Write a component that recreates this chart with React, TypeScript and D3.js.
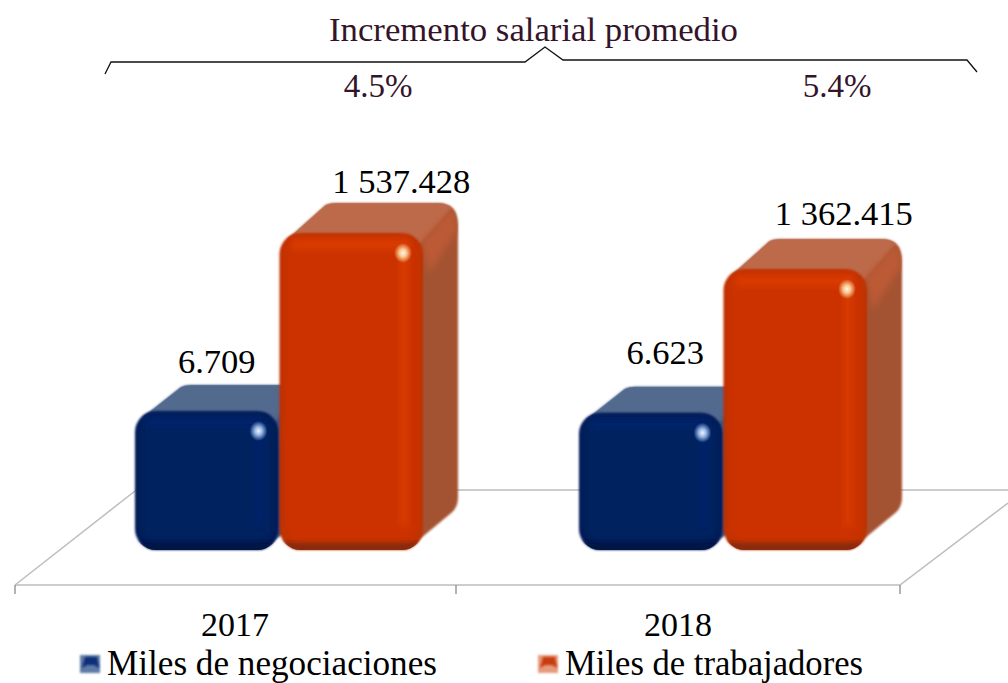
import React from "react";
import * as d3 from "d3";

const categories = ["2017", "2018"];
const seriesNames = ["Miles de negociaciones", "Miles de trabajadores"];
const negociaciones = [6.709, 6.623];
const trabajadores = [1537.428, 1362.415];
const negociacionesLabels = ["6.709", "6.623"];
const trabajadoresLabels = ["1 537.428", "1 362.415"];
const bracketTitle = "Incremento salarial promedio";
const increments = ["4.5%", "5.4%"];

const W = 1008, H = 683;
const FONT = "'Liberation Serif', serif";
const BASE = 550;
const DX = 35;

const x0 = d3.scaleBand().domain(categories).range([15, 903]);
const x1 = d3.scaleBand().domain(seriesNames).range([120, 408]).paddingInner(0.007);
const yNeg = d3.scaleLinear().domain([0, 6.709]).range([BASE, 411]);
const yTrab = d3.scaleLinear().domain([0, 1537.428]).range([BASE, 233]);
const line = d3.line();

const palette = [
  { edge: "#001c58", front: "#01205f", band: "#03226a", top: "#526a8f", side: "#34507f", side2: "#3d5a88", hi: "#b5d3ff", bottomEdge: "#001445", dy: 26, mark: "#0d2f78", markEdge: "#5f7aa5" },
  { edge: "#c03000", front: "#cc3300", band: "#d93b02", top: "#bd6a4c", side: "#a45233", side2: "#bb5a34", hi: "#ffe0a8", bottomEdge: "#8a2c0c", dy: 30, mark: "#c83c10", markEdge: "#e59a7c" },
];

function Bar({ x, w, y, s, idx }: { x: number; w: number; y: number; s: number; idx: string }) {
  const p = palette[s];
  const DY = p.dy;
  const h = BASE - y;
  const r = 21;
  const right = x + w;
  const backR = right + DX;
  const backTop = y - DY;
  const backBot = BASE - DY;
  const outline = `M${x + 8},${y + 6} L${x + 46},${backTop + 2} Q${x + 50},${backTop} ${x + 56},${backTop}
    L${backR - 20},${backTop} Q${backR},${backTop} ${backR},${backTop + 22}
    L${backR},${backBot - 22} Q${backR},${backBot - 12} ${backR - 8},${backBot - 6}
    L${right - 8},${BASE - 7} L${x + 20},${BASE - 7} Z`;
  const top = `M${x + 8},${y + 6} L${x + 46},${backTop + 2} Q${x + 50},${backTop} ${x + 56},${backTop}
    L${backR - 22},${backTop} Q${backR - 10},${backTop} ${backR - 6},${backTop + 5} L${right - 2},${y + 10} Z`;
  return (
    <g>
      <path d={outline} fill={p.side} filter="url(#soft)" />
      <clipPath id={`o${idx}`}><path d={outline} /></clipPath>
      <g clipPath={`url(#o${idx})`}>
        <path d={top} fill={p.top} filter="url(#soft)" />
        <path d={`M${right - 2},${y + 8} L${backR - 5},${backTop + 4} L${backR},${backTop + 26} L${right + 6},${y + 40} Z`} fill={p.side2} filter="url(#blur3)" />
      </g>
      <rect x={x} y={y} width={w} height={h} rx={r} fill={p.edge} filter="url(#soft)" />
      <clipPath id={`clip${idx}`}>
        <rect x={x} y={y} width={w} height={h} rx={r} />
      </clipPath>
      <g clipPath={`url(#clip${idx})`}>
        <rect x={x - 3} y={BASE - 8} width={w + 6} height={12} fill={p.bottomEdge} filter="url(#blur2)" />
        <rect x={x + 6} y={y + 5} width={w - 12} height={h - 15} rx={r - 8} fill={p.front} filter="url(#blur3)" />
        <rect x={x + 12} y={y + 6} width={w - 26} height={11} fill={p.band} filter="url(#blur3)" />
        <rect x={right - 23} y={y + 12} width={8} height={h - 36} fill={p.band} filter="url(#blur3)" />
      </g>
      <ellipse cx={right - 20} cy={y + 20} rx={9} ry={10} fill={`url(#hi${s})`} />
    </g>
  );
}

function Marker({ x, y, s }: { x: number; y: number; s: number }) {
  const p = palette[s];
  return (
    <g>
      <rect x={x} y={y} width={20} height={18} fill={p.markEdge} filter="url(#soft)" />
      <path d={`M${x + 2},${y + 13} L${x + 5},${y + 2} L${x + 17},${y + 2} L${x + 19},${y + 13} L${x + 14},${y + 10} L${x + 7},${y + 10} Z`} fill={p.mark} filter="url(#soft)" />
    </g>
  );
}

export default function App() {
  const band = x0.bandwidth();
  const txt = { fontFamily: FONT, fill: "#000" } as const;
  const negDx = [10, 14.5];
  const negDy = [-38, -49];
  const trabDy = [-40, -44];
  const trabDx = [50, 48.5];
  const yearDx = [-2, -3];
  return (
    <svg width={W} height={H} viewBox={`0 0 ${W} ${H}`} style={{ position: "absolute", left: 0, top: 0, display: "block", background: "#fff" }}>
      <defs>
        <filter id="soft" x="-10%" y="-10%" width="120%" height="120%"><feGaussianBlur stdDeviation="0.8" /></filter>
        <filter id="blur2" x="-20%" y="-20%" width="140%" height="140%"><feGaussianBlur stdDeviation="2" /></filter>
        <filter id="blur3" x="-30%" y="-30%" width="160%" height="160%"><feGaussianBlur stdDeviation="3" /></filter>
        {palette.map((p, i) => (
          <radialGradient id={`hi${i}`} key={i}>
            <stop offset="0%" stopColor="#fff" stopOpacity={0.95} />
            <stop offset="40%" stopColor={p.hi} stopOpacity={0.85} />
            <stop offset="100%" stopColor={p.hi} stopOpacity={0} />
          </radialGradient>
        ))}
      </defs>

      {/* Bracket */}
      <path d={line([[105, 74], [111, 62], [525, 62], [545, 47], [563, 60], [967, 60], [977, 72]])!} fill="none" stroke="#111" strokeWidth={1.3} />
      <text x={533.5} y={41} textAnchor="middle" fontSize={33} fontFamily={FONT} fill="#33142a" textLength={409} lengthAdjust="spacingAndGlyphs">{bracketTitle}</text>
      {increments.map((t, i) => (
        <text key={t} x={[378, 837][i]} y={97} textAnchor="middle" fontSize={33} fontFamily={FONT} fill="#33142a">{t}</text>
      ))}

      {/* Floor */}
      <g stroke="#bdbdbd" strokeWidth={1.5} fill="none">
        <path d={line([[15, 585], [900, 585], [1008, 503]])!} />
        <path d={line([[15, 585], [135, 491]])!} />
        <path d={line([[135, 490], [1008, 490]])!} />
      </g>
      {[15, 456, 900].map((x) => (
        <line key={x} x1={x} x2={x} y1={585} y2={594} stroke="#808080" strokeWidth={1.2} />
      ))}

      {categories.map((c, i) => {
        const xb = x0(c)! + x1(seriesNames[0])!;
        const xo = x0(c)! + x1(seriesNames[1])!;
        const bw = x1.bandwidth();
        return (
          <g key={c}>
            <Bar x={xb} w={bw} y={yNeg(negociaciones[i])} s={0} idx={`b${i}`} />
            <Bar x={xo} w={bw} y={yTrab(trabajadores[i])} s={1} idx={`o${i}`} />
            <text x={xb + bw / 2 + negDx[i]} y={yNeg(negociaciones[i]) + negDy[i]} textAnchor="middle" fontSize={34.5} {...txt}>{negociacionesLabels[i]}</text>
            <text x={xo + bw / 2 + trabDx[i]} y={yTrab(trabajadores[i]) + trabDy[i]} textAnchor="middle" fontSize={34.5} {...txt}>{trabajadoresLabels[i]}</text>
            <text x={x0(c)! + band / 2 + yearDx[i]} y={636} textAnchor="middle" fontSize={34} {...txt}>{c}</text>
          </g>
        );
      })}

      {/* Legend */}
      {seriesNames.map((n, i) => (
        <g key={n}>
          <Marker x={[80, 538][i]} y={655} s={i} />
          <text x={[107, 565][i]} y={675} fontSize={35} {...txt} textLength={[330, 298][i]} lengthAdjust="spacingAndGlyphs">{n}</text>
        </g>
      ))}
    </svg>
  );
}
